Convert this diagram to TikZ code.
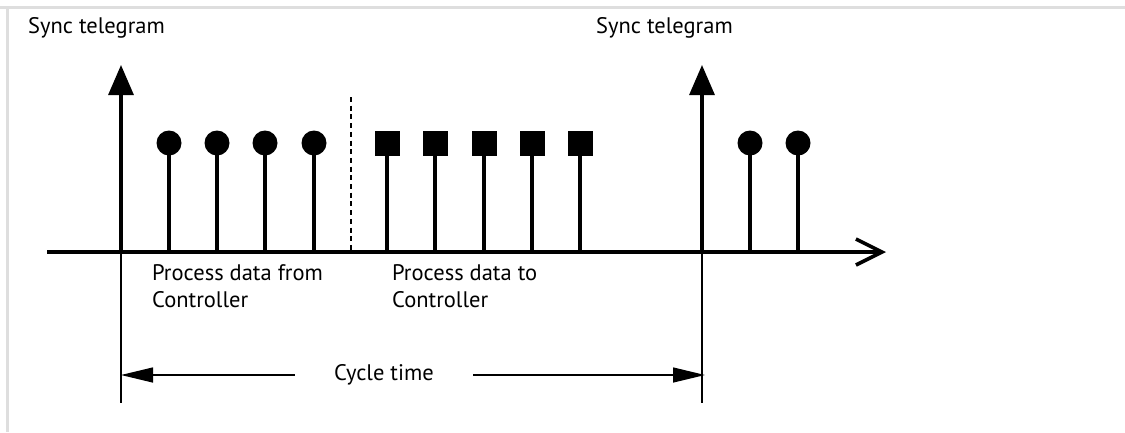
\documentclass[tikz,border=0pt]{standalone}
\usepackage{fontspec}
\setmainfont{PT Sans}
\usetikzlibrary{arrows.meta}

\begin{document}
\begin{tikzpicture}[x=1pt, y=-1pt, line join=miter,
  font=\fontsize{22.5}{27}\selectfont,
  frameline/.style={line width=2.8pt, draw=black!13},
  axisline/.style={line width=3.6pt, -{Straight Barb[length=26pt,width=26pt]}},
  syncarrow/.style={line width=3.2pt, -{Triangle[length=30pt,width=25pt]}},
  stemline/.style={line width=3.2pt},
  thinline/.style={line width=1.3pt},
  sepline/.style={line width=1.3pt, dash pattern=on 5pt off 3.7pt},
  cycarrow/.style={line width=1.3pt, -{Triangle[length=32pt,width=15pt]}},
  dotnode/.style={circle, fill=black, inner sep=0pt, minimum size=25pt},
  boxnode/.style={rectangle, fill=black, inner sep=0pt, minimum size=25pt},
  textlabel/.style={inner sep=0pt}]

  %% ════ frame (page edge) ════
  \draw[frameline] (0,7.5) -- (1125,7.5);
  \draw[frameline] (7.3,7.5) -- (7.3,432);

  %% ════ time axis and sync marks ════
  \coordinate (ax0) at (47,252);
  \coordinate (ax1) at (886,252);
  \coordinate (t0) at (121,252);     % first sync telegram
  \coordinate (t1) at (702,252);     % second sync telegram
  \coordinate (s0) at (121,65);
  \coordinate (s1) at (702,65);
  \coordinate (t0low) at (121,403);
  \coordinate (t1low) at (702,403);

  \draw[axisline] (ax0) -- (ax1);
  \draw[syncarrow] (t0) -- (s0);
  \draw[syncarrow] (t1) -- (s1);
  \draw[thinline] (t0) -- (t0low);
  \draw[thinline] (t1) -- (t1low);

  %% ════ process data from controller (dots) ════
  \node[dotnode] (d1) at (169,143) {};
  \node[dotnode] (d2) at (217,143) {};
  \node[dotnode] (d3) at (265,143) {};
  \node[dotnode] (d4) at (314,143) {};
  \draw[stemline] (d1.center) -- (d1 |- t0);
  \draw[stemline] (d2.center) -- (d2 |- t0);
  \draw[stemline] (d3.center) -- (d3 |- t0);
  \draw[stemline] (d4.center) -- (d4 |- t0);

  %% separator
  \coordinate (sep0) at (351,97);
  \draw[sepline] (sep0) -- (sep0 |- t0);

  %% ════ process data to controller (squares) ════
  \node[boxnode] (q1) at (387,143) {};
  \node[boxnode] (q2) at (435,143) {};
  \node[boxnode] (q3) at (484,143) {};
  \node[boxnode] (q4) at (532,143) {};
  \node[boxnode] (q5) at (580,143) {};
  \draw[stemline] (q1.center) -- (q1 |- t0);
  \draw[stemline] (q2.center) -- (q2 |- t0);
  \draw[stemline] (q3.center) -- (q3 |- t0);
  \draw[stemline] (q4.center) -- (q4 |- t0);
  \draw[stemline] (q5.center) -- (q5 |- t0);

  %% ════ next cycle ════
  \node[dotnode] (d5) at (750,143) {};
  \node[dotnode] (d6) at (798,143) {};
  \draw[stemline] (d5.center) -- (d5 |- t1);
  \draw[stemline] (d6.center) -- (d6 |- t1);

  %% ════ labels ════
  \node[textlabel, anchor=base west] (sync0) at (28,33) {Sync telegram};
  \node[textlabel, anchor=base east] (sync1) at (733,33) {Sync telegram};
  \node[textlabel, anchor=north west, align=left] (pfrom) at (152,264) {Process data from\\Controller};
  \node[textlabel, anchor=north west, align=left] (pto) at (392,264) {Process data to\\Controller};

  %% ════ cycle time ════
  \node[textlabel, inner xsep=39pt] (cyc) at (384,375) {Cycle time};
  \coordinate (cl) at (121,375);
  \coordinate (cr) at (705,375);
  \draw[cycarrow] (cyc.west) -- (cl);
  \draw[cycarrow] (cyc.east) -- (cr);

  \pgfresetboundingbox
  \path[use as bounding box] (0,0) rectangle (1125,432);
\end{tikzpicture}
\end{document}
